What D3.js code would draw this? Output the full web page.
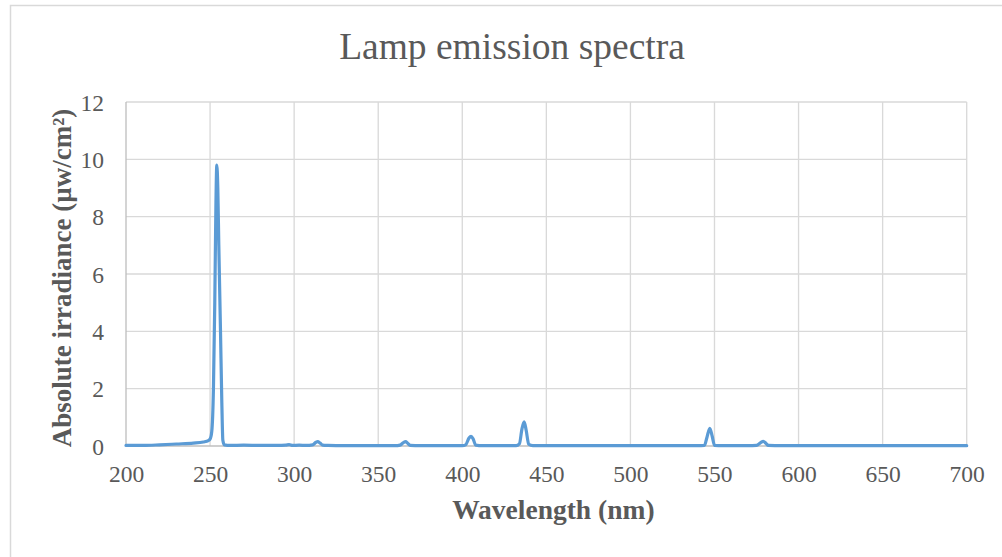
<!DOCTYPE html>
<html>
<head>
<meta charset="utf-8">
<script src="https://cdn.jsdelivr.net/npm/d3@7"></script>
<style>
  html, body { margin: 0; padding: 0; background: #ffffff; }
  svg { display: block; }
</style>
</head>
<body>
<svg id="chart" width="1002" height="557"></svg>
<script>
// ---- data ----
const chartTitle = "Lamp emission spectra";
const xAxisTitle = "Wavelength (nm)";
const yAxisTitle = "Absolute irradiance (µw/cm²)";
const xTicks = [200, 250, 300, 350, 400, 450, 500, 550, 600, 650, 700];
const yTicks = [0, 2, 4, 6, 8, 10, 12];
const wavelength = [
  200, 210, 220, 230, 240, 246, 249, 250, 251, 252, 252.8, 253.5, 254.0, 254.6, 255.2, 256.2, 257.0, 257.6, 258.5,
  262, 270, 280, 290, 295, 297, 299, 303, 307, 311, 313, 314, 315.5, 317, 320,
  330, 340, 350, 360, 363, 365, 366.3, 367.5, 369, 375, 390, 400, 402, 404, 405.2, 406.5, 408, 412,
  425, 432, 434, 435.5, 436.8, 438, 439.5, 442, 460, 500, 540, 544, 545.5, 547.2, 548.6, 550, 555,
  570, 575, 577.5, 579, 580.5, 582, 590, 650, 700
];
const irradiance = [
  0.02, 0.02, 0.04, 0.07, 0.10, 0.14, 0.19, 0.24, 0.5, 2.0, 5.0, 8.5, 9.8, 9.0, 7.0, 4.0, 1.5, 0.2, 0.04,
  0.02, 0.03, 0.02, 0.02, 0.03, 0.05, 0.02, 0.03, 0.02, 0.04, 0.13, 0.15, 0.10, 0.03, 0.02,
  0.01, 0.01, 0.01, 0.01, 0.03, 0.12, 0.15, 0.10, 0.02, 0.01, 0.01, 0.01, 0.04, 0.28, 0.34, 0.24, 0.03, 0.01,
  0.01, 0.01, 0.08, 0.60, 0.84, 0.55, 0.06, 0.01, 0.01, 0.01, 0.01, 0.02, 0.30, 0.62, 0.35, 0.02, 0.01,
  0.01, 0.02, 0.12, 0.16, 0.10, 0.02, 0.01, 0.01, 0.01
];

// ---- layout ----
const svg = d3.select("#chart");
const plot = { left: 126, right: 966.7, top: 102, bottom: 446 };
const textColor = "#595959";
const gridColor = "#d9d9d9";
const font = "'Liberation Serif', 'Times New Roman', serif";

// outer chart border
svg.append("rect")
  .attr("x", 10.5).attr("y", 5.5)
  .attr("width", 1100).attr("height", 700)
  .attr("fill", "none").attr("stroke", gridColor).attr("stroke-width", 1.5);

const x = d3.scaleLinear().domain([200, 700]).range([plot.left, plot.right]);
const y = d3.scaleLinear().domain([0, 12]).range([plot.bottom, plot.top]);

// gridlines
const grid = svg.append("g");
grid.selectAll("line.v").data(xTicks.slice(1)).join("line")
  .attr("x1", d => x(d)).attr("x2", d => x(d))
  .attr("y1", plot.top).attr("y2", plot.bottom)
  .attr("stroke", gridColor).attr("stroke-width", 1.33);
grid.selectAll("line.h").data(yTicks.slice(1)).join("line")
  .attr("x1", plot.left).attr("x2", plot.right)
  .attr("y1", d => y(d)).attr("y2", d => y(d))
  .attr("stroke", gridColor).attr("stroke-width", 1.33);

// axes lines
svg.append("line")
  .attr("x1", plot.left).attr("x2", plot.left)
  .attr("y1", plot.top).attr("y2", plot.bottom)
  .attr("stroke", "#bfbfbf").attr("stroke-width", 1.33);
svg.append("line")
  .attr("x1", plot.left).attr("x2", plot.right)
  .attr("y1", plot.bottom).attr("y2", plot.bottom)
  .attr("stroke", "#bfbfbf").attr("stroke-width", 1.33);

// axes tick labels via d3 axes
const xAxis = d3.axisBottom(x).tickValues(xTicks).tickSize(0).tickPadding(0).tickFormat(d3.format("d"));
const gx = svg.append("g").attr("transform", `translate(0,${plot.bottom})`).call(xAxis);
gx.select(".domain").remove();
gx.selectAll("text")
  .attr("y", 36).attr("dy", 0)
  .attr("font-family", font).attr("font-size", 23.5).attr("fill", textColor);

const yAxis = d3.axisLeft(y).tickValues(yTicks).tickSize(0).tickPadding(0).tickFormat(d3.format("d"));
const gy = svg.append("g").attr("transform", `translate(${plot.left},0)`).call(yAxis);
gy.select(".domain").remove();
gy.selectAll("text")
  .attr("x", -22).attr("dy", "0.34em")
  .attr("font-family", font).attr("font-size", 23.5).attr("fill", textColor);

// data line
const points = wavelength.map((w, i) => [w, irradiance[i]]);
const line = d3.line().x(d => x(d[0])).y(d => y(d[1])).curve(d3.curveMonotoneX);
svg.append("path")
  .datum(points)
  .attr("d", line)
  .attr("fill", "none")
  .attr("stroke", "#5b9bd5")
  .attr("stroke-width", 3.2)
  .attr("stroke-linejoin", "round")
  .attr("stroke-linecap", "round");

// title
svg.append("text")
  .attr("x", 512).attr("y", 59)
  .attr("text-anchor", "middle")
  .attr("font-family", font).attr("font-size", 37.5).attr("fill", textColor)
  .text(chartTitle);

// axis titles
svg.append("text")
  .attr("x", (plot.left + plot.right) / 2 + 7).attr("y", 519)
  .attr("text-anchor", "middle")
  .attr("font-family", font).attr("font-size", 27.5).attr("font-weight", "bold").attr("fill", textColor)
  .text(xAxisTitle);

svg.append("text")
  .attr("transform", `translate(71,${(plot.top + plot.bottom) / 2 + 4}) rotate(-90)`)
  .attr("text-anchor", "middle")
  .attr("font-family", font).attr("font-size", 27).attr("font-weight", "bold").attr("fill", textColor)
  .text(yAxisTitle);
</script>
</body>
</html>
